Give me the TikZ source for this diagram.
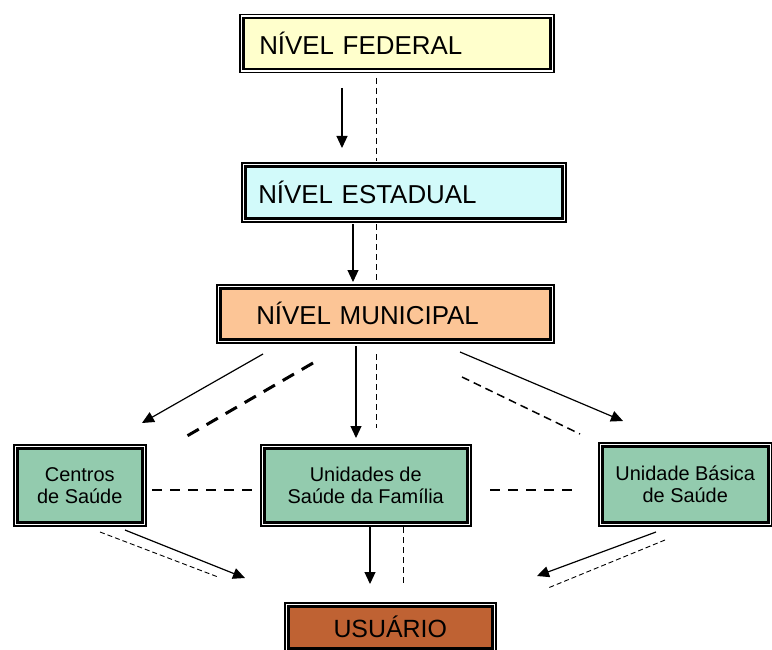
\documentclass[tikz,border=0pt]{standalone}
\usepackage{fontspec}
\setmainfont{Liberation Sans}
\usetikzlibrary{arrows.meta}

\definecolor{federal}{HTML}{FFFFCC}
\definecolor{estadual}{HTML}{D2FAFA}
\definecolor{municipal}{HTML}{FCC596}
\definecolor{unidade}{HTML}{93CBAE}
\definecolor{usuario}{HTML}{BF6233}

\tikzset{
  moldura/.style={draw, line width=2.5bp,
    preaction={draw, line width=8.5bp},
    preaction={draw=white, line width=5.5bp}},
  nivel/.style={moldura, anchor=north west, align=left, inner ysep=0pt,
    font=\fontsize{26}{30}\selectfont},
  posto/.style={moldura, anchor=north west, align=center, inner sep=0pt,
    fill=unidade, font=\fontsize{20}{22}\selectfont},
  seta/.style={-{Triangle[length=12bp,width=11bp]}, line width=1.2bp},
  fino/.style={line width=1bp, dash pattern=on 6bp off 4bp},
  grosso/.style={line width=3bp, dash pattern=on 13bp off 9bp},
  medio/.style={line width=2bp, dash pattern=on 10bp off 8bp},
  miudo/.style={line width=0.9bp, dash pattern=on 5bp off 3bp},
}

\begin{document}
\begin{tikzpicture}[x=1bp,y=-1bp]
  \useasboundingbox (0,0) rectangle (772,650);

  % niveis de gestao
  \node[nivel, fill=federal, minimum height=51bp, inner xsep=16bp, text width=275bp]
    (fed) at (242,17) {NÍVEL FEDERAL};
  \node[nivel, fill=estadual, minimum height=52bp, inner xsep=13bp, text width=291bp]
    (est) at (244,165) {NÍVEL ESTADUAL};
  \node[nivel, fill=municipal, minimum height=51bp, inner xsep=36bp, text width=258bp]
    (mun) at (219,287) {NÍVEL MUNICIPAL};

  % unidades
  \node[posto, minimum width=125bp, minimum height=74bp] (cs) at (16,447)
    {Centros\\de Saúde};
  \node[posto, minimum width=203bp, minimum height=74bp] (usf) at (263,447)
    {Unidades de\\Saúde da Família};
  \node[posto, minimum width=166bp, minimum height=76bp] (ubs) at (601,445)
    {Unidade Básica\\de Saúde};
  \node[posto, fill=usuario, minimum width=204bp, minimum height=42bp,
    font=\fontsize{25}{28}\selectfont] (usu) at (287,605) {USUÁRIO};

  % pontas livres das setas
  \coordinate (f1) at (342,88);   \coordinate (e1) at (342,148);
  \coordinate (f2) at (376,78);   \coordinate (e2) at (376,161);
  \coordinate (e3) at (353,224);  \coordinate (m3) at (353,282);
  \coordinate (e4) at (376,224);  \coordinate (m4) at (376,285);
  \coordinate (m5) at (263,354);  \coordinate (c5) at (142,423);
  \coordinate (m6) at (313,363);  \coordinate (c6) at (187,436);
  \coordinate (m7) at (356,346);  \coordinate (u7) at (356,438);
  \coordinate (m8) at (376,354);  \coordinate (u8) at (376,428);
  \coordinate (m9) at (460,352);  \coordinate (b9) at (623,421);
  \coordinate (m10) at (462,377); \coordinate (b10) at (580,434);
  \coordinate (h1) at (152,490);  \coordinate (h2) at (255,490);
  \coordinate (h3) at (490,490);  \coordinate (h4) at (580,490);
  \coordinate (c11) at (125,530); \coordinate (s11) at (245,578);
  \coordinate (c12) at (100,532); \coordinate (s12) at (218,577);
  \coordinate (u13) at (370,527); \coordinate (s13) at (370,584);
  \coordinate (u14) at (403,527); \coordinate (s14) at (403,586);
  \coordinate (b15) at (656,532); \coordinate (s15) at (537,576);
  \coordinate (b16) at (665,540); \coordinate (s16) at (548,588);

  % fluxos
  \draw[seta] (f1) -- (e1);
  \draw[fino] (f2) -- (e2);
  \draw[seta] (e3) -- (m3);
  \draw[fino] (e4) -- (m4);
  \draw[seta] (m5) -- (c5);
  \draw[grosso] (m6) -- (c6);
  \draw[seta] (m7) -- (u7);
  \draw[fino] (m8) -- (u8);
  \draw[seta] (m9) -- (b9);
  \draw[line width=1.5bp, dash pattern=on 8bp off 5bp] (m10) -- (b10);
  \draw[medio] (h1) -- (h2);
  \draw[medio] (h3) -- (h4);
  \draw[seta] (c11) -- (s11);
  \draw[miudo] (c12) -- (s12);
  \draw[seta] (u13) -- (s13);
  \draw[fino] (u14) -- (s14);
  \draw[seta] (b15) -- (s15);
  \draw[miudo] (b16) -- (s16);
\end{tikzpicture}
\end{document}
